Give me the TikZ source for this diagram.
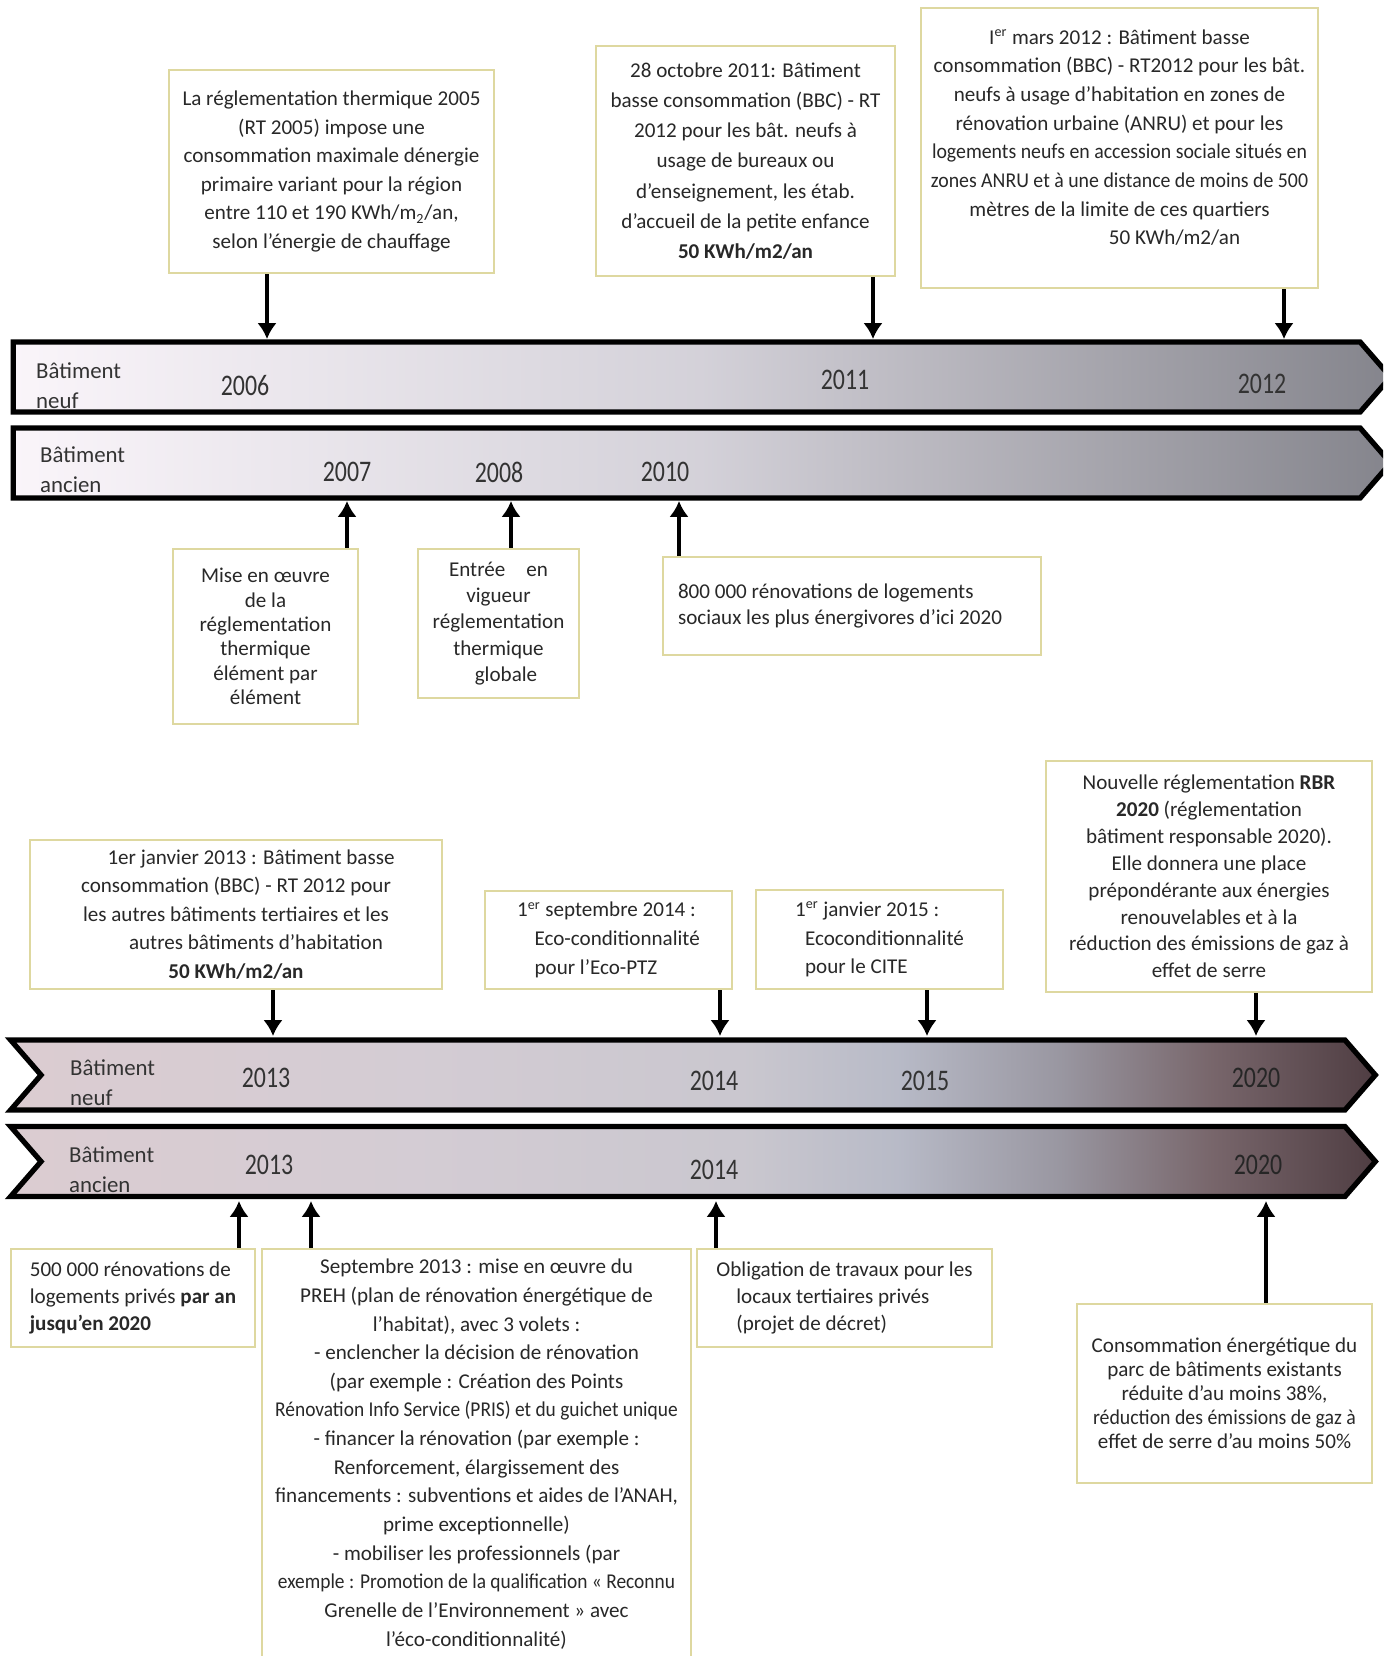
\documentclass[tikz,border=0pt]{standalone}
\usepackage{fontspec}
\setmainfont{Carlito}
\usetikzlibrary{positioning, arrows.meta, shapes.symbols}
\definecolor{box-line}{RGB}{222,216,160}
\definecolor{box-text}{RGB}{40,40,40}
\pgfdeclarehorizontalshading{band-top}{100bp}{rgb(0bp)=(0.98,0.96,0.98); rgb(25bp)=(0.98,0.96,0.98); rgb(50bp)=(0.83,0.82,0.85); rgb(75bp)=(0.52,0.52,0.55); rgb(100bp)=(0.52,0.52,0.55)}
\pgfdeclarehorizontalshading{band-low}{100bp}{rgb(0bp)=(0.86,0.80,0.82); rgb(25bp)=(0.86,0.80,0.82); rgb(40bp)=(0.83,0.80,0.83); rgb(52bp)=(0.79,0.78,0.81); rgb(57.5bp)=(0.72,0.73,0.78); rgb(63.5bp)=(0.60,0.59,0.63); rgb(69bp)=(0.47,0.40,0.42); rgb(75bp)=(0.31,0.24,0.26); rgb(100bp)=(0.31,0.24,0.26)}
\newcommand{\squeezed}[2][0.86]{\scalebox{#1}[1]{#2}}

\begin{document}
\begin{tikzpicture}
    [x=0.02cm, y=-0.02cm,
    box/.style = {rectangle, draw=box-line, line width=1.2pt, fill=white,
            align=center, inner sep=0pt, text=box-text,
            font=\fontsize{12}{16.3}\selectfont},
    band/.style = {signal, signal to=east, signal pointer angle=98,
            draw=black, line width=3pt, minimum width=27.55cm,
            minimum height=1.40cm, inner sep=0pt, shade},
    year/.style = {text=black!80, font=\fontsize{17}{17}\selectfont},
    tag/.style = {anchor=west, align=left, text=black!80,
            font=\fontsize{13}{17}\selectfont},
    link/.style = {line width=2.5pt, -{Latex[length=9pt, width=11pt]}},
    ]

    \path[use as bounding box, fill=white] (0,0) rectangle (1383,1656);
    \clip (0,0) rectangle (1383,1656);

    % timelines 2006 - 2012
    \node[band, shading=band-top] (neuf-a) at (686.75,377) {};
    \node[band, shading=band-top] (ancien-a) at (686.75,463) {};

    \node[tag] (neuf-a-txt) at (30,385.5) {Bâtiment\\neuf};
    \node[tag] (ancien-a-txt) at (34,469.5) {Bâtiment\\ancien};

    \node[year] (y2006) at (245,386) {\squeezed[0.8]{2006}};
    \node[year] (y2011) at (845,380) {\squeezed[0.8]{2011}};
    \node[year] (y2012) at (1262,384) {\squeezed[0.8]{2012}};
    \node[year] (y2007) at (347,472) {\squeezed[0.8]{2007}};
    \node[year] (y2008) at (499,472) {\squeezed[0.8]{2008}};
    \node[year] (y2010) at (665,472) {\squeezed[0.8]{2010}};

    \node[box, minimum width=6.5cm, minimum height=4.06cm] (rt2005) at (331.5,171.5)
        {La réglementation thermique 2005\\(RT 2005) impose une\\consommation maximale dénergie\\primaire variant pour la région\\entre 110 et 190 KWh/m\textsubscript{2}/an,\\selon l’énergie de chauffage};
    \node[box, minimum width=5.98cm, minimum height=4.6cm,
        font=\fontsize{12}{17.2}\selectfont] (bbc2011) at (745.5,161)
        {28 octobre 2011: Bâtiment\\basse consommation (BBC) - RT\\2012 pour les bât. neufs à\\usage de bureaux ou\\d’enseignement, les étab.\\d’accueil de la petite enfance\\\textbf{50 KWh/m2/an}};
    \node[box, minimum width=7.94cm, minimum height=5.6cm] (bbc2012) at (1119.5,148)
        {I\textsuperscript{er} mars 2012 : Bâtiment basse\\consommation (BBC) - RT2012 pour les bât.\\neufs à usage d'habitation en zones de\\rénovation urbaine (ANRU) et pour les\\\squeezed[0.94]{logements neufs en accession sociale situés en}\\\squeezed[0.94]{zones ANRU et à une distance de moins de 500}\\mètres de la limite de ces quartiers\\\hspace*{2.2cm}50 KWh/m2/an\\[-4pt]\mbox{}};

    \node[box, minimum width=3.7cm, minimum height=3.5cm,
        font=\fontsize{12}{13.9}\selectfont] (rt-elem) at (265.5,636.5)
        {Mise en œuvre\\de la\\réglementation\\thermique\\élément par\\élément};
    \node[box, minimum width=3.22cm, minimum height=2.98cm,
        font=\fontsize{12}{15}\selectfont] (rt-glob) at (498.5,623.5)
        {Entrée\quad en\\vigueur\\réglementation\\thermique\\\hspace*{0.3cm}globale};
    \node[box, minimum width=7.56cm, minimum height=1.96cm, align=left,
        font=\fontsize{12}{14.4}\selectfont] (reno-soc) at (852,606)
        {800 000 rénovations de logements\\sociaux les plus énergivores d’ici 2020\hspace*{0.48cm}};

    \coordinate (p2006) at (267,339);
    \coordinate (p2011) at (873,339);
    \coordinate (p2012) at (1284,339);
    \coordinate (p2007) at (347,501);
    \coordinate (p2008) at (511,501);
    \coordinate (p2010) at (679,501);

    \draw[link] (rt2005.south -| p2006) -- (p2006);
    \draw[link] (bbc2011.south -| p2011) -- (p2011);
    \draw[link] (bbc2012.south -| p2012) -- (p2012);
    \draw[link] (rt-elem.north -| p2007) -- (p2007);
    \draw[link] (rt-glob.north -| p2008) -- (p2008);
    \draw[link] (reno-soc.north -| p2010) -- (p2010);

    % timelines 2013 - 2020
    \node[band, signal from=west, minimum width=27.3cm, shading=band-low] (neuf-b) at (693,1075) {};
    \node[band, signal from=west, minimum width=27.3cm, shading=band-low] (ancien-b) at (693,1161.5) {};

    \node[tag] (neuf-b-txt) at (64,1083) {Bâtiment\\neuf};
    \node[tag] (ancien-b-txt) at (63,1170) {Bâtiment\\ancien};

    \node[year] (y2013a) at (266,1078) {\squeezed[0.8]{2013}};
    \node[year] (y2014a) at (714,1081) {\squeezed[0.8]{2014}};
    \node[year] (y2015) at (925,1081) {\squeezed[0.8]{2015}};
    \node[year, text=black!85] (y2020a) at (1256,1078) {\squeezed[0.8]{2020}};
    \node[year] (y2013b) at (269,1165) {\squeezed[0.8]{2013}};
    \node[year] (y2014b) at (714,1170) {\squeezed[0.8]{2014}};
    \node[year, text=black!85] (y2020b) at (1258,1165) {\squeezed[0.8]{2020}};

    \node[box, minimum width=8.24cm, minimum height=2.98cm] (bbc2013) at (236,914.5)
        {\hspace*{0.6cm}1er janvier 2013 : Bâtiment basse\\consommation (BBC) - RT 2012 pour\\les autres bâtiments tertiaires et les\\\hspace*{0.8cm}autres bâtiments d'habitation\\\textbf{50 KWh/m2/an}};
    \node[box, minimum width=4.94cm, minimum height=1.96cm, align=left] (ptz2014) at (608.5,940)
        {1\textsuperscript{er} septembre 2014 :\\\hspace*{0.35cm}Eco-conditionnalité\\\hspace*{0.35cm}pour l'Eco-PTZ};
    \node[box, minimum width=4.94cm, minimum height=1.98cm, align=left] (cite2015) at (879.5,939.5)
        {1\textsuperscript{er} janvier 2015 :\\\hspace*{0.2cm}Ecoconditionnalité\\\hspace*{0.2cm}pour le CITE};
    \node[box, minimum width=6.52cm, minimum height=4.62cm,
        font=\fontsize{12}{15.3}\selectfont] (rbr2020) at (1209,876.5)
        {Nouvelle réglementation \textbf{RBR}\\\textbf{2020} (réglementation\\bâtiment responsable 2020).\\Elle donnera une place\\prépondérante aux énergies\\renouvelables et à la\\réduction des émissions de gaz à\\effet de serre};

    \node[box, minimum width=4.88cm, minimum height=1.96cm, align=left,
        font=\fontsize{12}{15.6}\selectfont] (reno-priv) at (133,1298)
        {500 000 rénovations de\\logements privés \textbf{par an}\\\textbf{jusqu'en 2020}};
    \node[box, minimum width=8.58cm, minimum height=8.2cm] (preh2013) at (476.5,1454)
        {Septembre 2013 : mise en œuvre du\\PREH (plan de rénovation énergétique de\\l'habitat), avec 3 volets :\\- enclencher la décision de rénovation\\(par exemple : Création des Points\\\squeezed[0.92]{Rénovation Info Service (PRIS) et du guichet unique}\\- financer la rénovation (par exemple :\\Renforcement, élargissement des\\financements : subventions et aides de l’ANAH,\\prime exceptionnelle)\\- mobiliser les professionnels (par\\\squeezed[0.92]{exemple : Promotion de la qualification « Reconnu}\\Grenelle de l'Environnement » avec\\l’éco-conditionnalité)};
    \node[box, minimum width=5.9cm, minimum height=1.96cm, align=left,
        font=\fontsize{12}{15.3}\selectfont] (tertiaire) at (844.5,1298)
        {Obligation de travaux pour les\\\hspace*{0.4cm}locaux tertiaires privés\\\hspace*{0.4cm}(projet de décret)};
    \node[box, minimum width=5.9cm, minimum height=3.58cm,
        font=\fontsize{12}{13.6}\selectfont] (conso2020) at (1224.5,1393.5)
        {Consommation énergétique du\\parc de bâtiments existants\\réduite d'au moins 38\%,\\\squeezed[0.94]{réduction des émissions de gaz à}\\effet de serre d'au moins 50\%};

    \coordinate (q2013) at (273,1036);
    \coordinate (q2014) at (720,1036);
    \coordinate (q2015) at (927,1036);
    \coordinate (q2020) at (1256,1036);
    \coordinate (r2013a) at (239,1201);
    \coordinate (r2013b) at (311,1201);
    \coordinate (r2014) at (716,1201);
    \coordinate (r2020) at (1266,1201);

    \draw[link] (bbc2013.south -| q2013) -- (q2013);
    \draw[link] (ptz2014.south -| q2014) -- (q2014);
    \draw[link] (cite2015.south -| q2015) -- (q2015);
    \draw[link] (rbr2020.south -| q2020) -- (q2020);
    \draw[link] (reno-priv.north -| r2013a) -- (r2013a);
    \draw[link] (preh2013.north -| r2013b) -- (r2013b);
    \draw[link] (tertiaire.north -| r2014) -- (r2014);
    \draw[link] (conso2020.north -| r2020) -- (r2020);
\end{tikzpicture}
\end{document}
